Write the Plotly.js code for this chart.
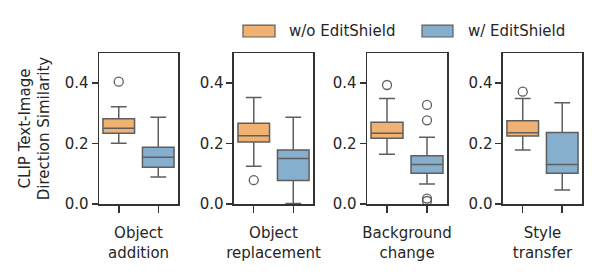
<!DOCTYPE html>
<html>
<head>
<meta charset="utf-8">
<script src="https://cdn.plot.ly/plotly-3.0.1.min.js"></script>
<style>html,body{margin:0;padding:0;background:#fff;}#chart{width:600px;height:280px;}</style>
</head>
<body>
<div id="chart"></div>
<script>
// ---- data ----
const panelLabels = ['Object<br>addition', 'Object<br>replacement', 'Background<br>change', 'Style<br>transfer'];
const seriesNames = ['w/o EditShield', 'w/ EditShield'];
const yTickVals = [0.0, 0.2, 0.4];
const yTickText = ['0.0', '0.2', '0.4'];
const yAxisTitle = 'CLIP Text-Image<br>Direction Similarity';

// w/o EditShield
const woLower = [0.201, 0.125, 0.165, 0.179];
const woQ1    = [0.234, 0.205, 0.218, 0.225];
const woMed   = [0.251, 0.226, 0.234, 0.236];
const woQ3    = [0.282, 0.267, 0.271, 0.276];
const woUpper = [0.322, 0.353, 0.349, 0.349];
const woOutliers = [[0.405], [0.079], [0.394], [0.372]];

// w/ EditShield
const wLower = [0.089, 0.002, 0.066, 0.046];
const wQ1    = [0.122, 0.078, 0.102, 0.102];
const wMed   = [0.155, 0.151, 0.131, 0.131];
const wQ3    = [0.188, 0.179, 0.160, 0.237];
const wUpper = [0.287, 0.287, 0.221, 0.335];
const wOutliers = [[], [], [0.328, 0.277, 0.018, 0.010], []];

// ---- styles ----
const fillColors = ['#EFB273', '#86AECD'];
const edgeColor = '#5e5e5e';
const spineColor = '#333333';
const textColor = '#262626';
const FONT = 'DejaVu Sans, sans-serif';

const stats = [
  {lower: woLower, q1: woQ1, med: woMed, q3: woQ3, upper: woUpper, out: woOutliers},
  {lower: wLower, q1: wQ1, med: wMed, q3: wQ3, upper: wUpper, out: wOutliers}
];

const traces = [];
for (let p = 0; p < panelLabels.length; p++) {
  const sfx = p === 0 ? '' : String(p + 1);
  for (let s = 0; s < seriesNames.length; s++) {
    const st = stats[s];
    traces.push({
      type: 'box',
      name: seriesNames[s],
      x: [seriesNames[s]],
      q1: [st.q1[p]], median: [st.med[p]], q3: [st.q3[p]],
      lowerfence: [st.lower[p]], upperfence: [st.upper[p]],
      width: 0.8,
      whiskerwidth: 0.5,
      fillcolor: fillColors[s],
      line: {color: edgeColor, width: 1.5},
      boxpoints: false,
      showlegend: false,
      hoverinfo: 'skip',
      xaxis: 'x' + sfx, yaxis: 'y' + sfx
    });
    if (st.out[p].length) {
      traces.push({
        type: 'scatter', mode: 'markers',
        x: st.out[p].map(() => seriesNames[s]),
        y: st.out[p],
        marker: {symbol: 'circle-open', size: 9, color: edgeColor, line: {width: 1.3, color: edgeColor}},
        showlegend: false, hoverinfo: 'skip',
        xaxis: 'x' + sfx, yaxis: 'y' + sfx
      });
    }
  }
}

const domains = [[0, 0.1636], [0.2795, 0.4431], [0.5549, 0.7205], [0.8364, 1]];
const layout = {
  width: 600, height: 280,
  margin: {l: 99, r: 18, t: 53, b: 76, pad: 0},
  paper_bgcolor: '#fff', plot_bgcolor: '#fff',
  font: {family: FONT, size: 15, color: textColor},
  showlegend: false,
  boxmode: 'overlay',
  shapes: [], annotations: []
};
for (let p = 0; p < panelLabels.length; p++) {
  const sfx = p === 0 ? '' : String(p + 1);
  layout['xaxis' + sfx] = {
    domain: domains[p], anchor: 'y' + sfx,
    type: 'category', categoryorder: 'array', categoryarray: seriesNames,
    range: [-0.5, 1.5],
    showticklabels: false, ticks: 'outside', ticklen: 7, tickwidth: 1.5, tickcolor: spineColor,
    showline: true, linecolor: spineColor, linewidth: 1.5, mirror: true,
    showgrid: false, zeroline: false, fixedrange: true,
    title: {text: panelLabels[p], font: {family: FONT, size: 15, color: textColor}, standoff: 16}
  };
  layout['yaxis' + sfx] = {
    domain: [0, 1], anchor: 'x' + sfx,
    range: [0, 0.5],
    tickvals: yTickVals, ticktext: yTickText,
    ticks: 'outside', ticklen: 6, tickwidth: 1.5, tickcolor: spineColor,
    tickfont: {family: FONT, size: 15, color: textColor},
    showline: true, linecolor: spineColor, linewidth: 1.5, mirror: true,
    showgrid: false, zeroline: false, fixedrange: true
  };
}
layout.yaxis.title = {text: yAxisTitle, font: {family: FONT, size: 15, color: textColor}, standoff: 11};

// manual legend (matplotlib-style patches)
const legX = [[0.2981, 0.3644, 0.3892], [0.6687, 0.7329, 0.7598]];
for (let s = 0; s < seriesNames.length; s++) {
  layout.shapes.push({type: 'rect', xref: 'paper', yref: 'paper',
    x0: legX[s][0], x1: legX[s][1], y0: 1.106, y1: 1.185,
    fillcolor: fillColors[s], line: {color: edgeColor, width: 1.2}});
  layout.annotations.push({xref: 'paper', yref: 'paper', x: legX[s][2], y: 1.1457,
    xanchor: 'left', yanchor: 'middle', showarrow: false, text: seriesNames[s],
    font: {family: FONT, size: 15, color: textColor}});
}

Plotly.newPlot('chart', traces, layout, {displayModeBar: false, staticPlot: true});
</script>
</body>
</html>
